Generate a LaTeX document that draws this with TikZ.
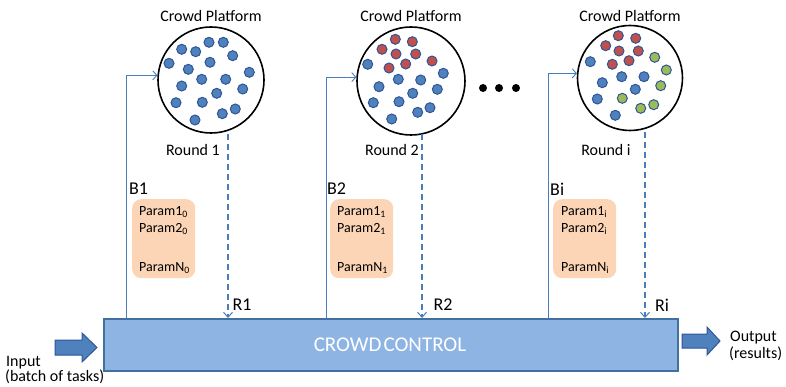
\documentclass[tikz,border=0pt]{standalone}
\usepackage{fontspec}
\setmainfont{Carlito}
\usetikzlibrary{arrows.meta}
\definecolor{dotblue}{HTML}{4F81BD}
\definecolor{dotedge}{HTML}{2F5597}
\definecolor{dotred}{HTML}{C0504D}
\definecolor{dotgreen}{HTML}{9BBB59}
\definecolor{ctrlfill}{HTML}{8EB4E3}
\definecolor{ctrledge}{HTML}{41719C}
\definecolor{peach}{HTML}{FBD5B5}
\definecolor{linkblue}{HTML}{4A7EBB}
\newcommand{\sbs}[1]{\textsubscript{#1}}
\tikzset{
  platform/.style={circle, draw=black, line width=1.6pt, minimum size=#1, inner sep=0pt},
  bdot/.style={circle, fill=dotblue, draw=dotedge, line width=1pt, minimum size=10pt, inner sep=0pt},
  rdot/.style={circle, fill=dotred, draw=dotedge, line width=1pt, minimum size=10pt, inner sep=0pt},
  gdot/.style={circle, fill=dotgreen, draw=dotedge, line width=1pt, minimum size=10pt, inner sep=0pt},
  title/.style={font=\fontsize{16}{18}\selectfont},
  lab/.style={font=\fontsize{18}{20}\selectfont},
  parambox/.style={fill=peach, rounded corners=9pt, minimum width=63pt, minimum height=79pt, anchor=north west, inner sep=0pt},
  ptext/.style={font=\fontsize{14}{16}\selectfont, anchor=west, inner sep=0pt},
  feed/.style={draw=linkblue, line width=0.9pt, -{Straight Barb[length=4pt,width=9pt,line width=0.9pt]}},
  res/.style={draw=linkblue, line width=1.3pt, dash pattern=on 6pt off 4pt, -{Straight Barb[length=5pt,width=9pt,line width=1pt]}},
  bigarrow/.style={fill=dotblue, draw=dotedge, line width=1pt, line join=miter},
}
\begin{document}
\begin{tikzpicture}[x=1pt,y=-1pt]
\useasboundingbox (0,0) rectangle (786,387);
% control box
\node[draw=ctrledge, fill=ctrlfill, line width=1.5pt, minimum width=574pt, minimum height=52pt, inner sep=0pt, anchor=north west] (ctrl) at (103,318) {};
\node[text=white, font=\fontsize{21}{23}\selectfont] (ctrltext) at (390,345) {CROWD\hspace{0.1em}CONTROL};
% platforms
\node[platform=106pt] (c1) at (211,80) {};
\node[platform=108pt] (c2) at (411,81) {};
\node[platform=105pt] (c3) at (630,78) {};
\node[title] (t1) at (211,16) {Crowd Platform};
\node[title] (t2) at (411,16) {Crowd Platform};
\node[title] (t3) at (630,16) {Crowd Platform};
\node[title] (rd1) at (193,150) {Round 1};
\node[title] (rd2) at (392,150) {Round 2};
\node[title] (rd3) at (606,150) {Round i};
% dots circle 1
\foreach \x/\y [count=\k] in {181.7/49.3,195.7/51.7,209/42.3,223.3/42.3,232.7/55.7,169/63.3,210/62.3,188.3/69.3,249.3/72.3,201.7/79.3,225.7/79.3,181.7/86,242.7/89,216.7/93.3,176/102.7,202.3/102.3,235.3/109,222.3/113.7,195/120}
  \node[bdot] (da\k) at (\x,\y) {};
% dots circle 2
\foreach \x/\y [count=\k] in {395.3/39.3,412.3/41.7,382/49.3,396/54,415.7/54,432/61,405.7/64,389/68}
  \node[rdot] (dbr\k) at (\x,\y) {};
\foreach \x/\y [count=\k] in {367.7/64.3,443.3/73.3,398.3/79.3,420.7/80,379/86.7,437.3/89.3,412.7/93.3,373.3/102.7,399/101.7,430/107.7,417.7/112.3,391.7/119}
  \node[bdot] (dbb\k) at (\x,\y) {};
% dots circle 3
\foreach \x/\y [count=\k] in {618.3/35.7,635.7/38.3,605.7/45.7,619/51,638.3/51,612.3/64.3,629/60.7}
  \node[rdot] (dcr\k) at (\x,\y) {};
\foreach \x/\y [count=\k] in {654.7/57.3,666.3/70,660.7/85.7,622.3/98.3,653.7/104.7,640.7/108.3}
  \node[gdot] (dcg\k) at (\x,\y) {};
\foreach \x/\y [count=\k] in {590.3/61.7,621.7/76.7,644/76.7,602.3/82.7,635.3/89.3,597.3/99,615.3/115.3}
  \node[bdot] (dcb\k) at (\x,\y) {};
% ellipsis dots
\foreach \x [count=\k] in {483,499,516}
  \node[circle, fill=black, minimum size=8pt, inner sep=0pt] (ell\k) at (\x,88) {};
% feed lines
\coordinate (f1) at (126,318);
\coordinate (f2) at (326,318);
\coordinate (f3) at (548,318);
\draw[feed] (f1) |- (c1.175);
\draw[feed] (f2) |- (c2.176);
\draw[feed] (f3) |- (c3.175);
% result lines
\coordinate (s1) at (228,134);
\coordinate (s2) at (422,134);
\coordinate (s3) at (645,132);
\draw[res] (s1) -- (s1 |- ctrl.north);
\draw[res] (s2) -- (s2 |- ctrl.north);
\draw[res] (s3) -- (s3 |- ctrl.north);
\node[lab] (r1) at (242,305) {R1};
\node[lab] (r2) at (443,305) {R2};
\node[lab] (r3) at (662,305) {Ri};
% B labels
\node[lab, anchor=west, inner sep=0pt] (b1) at (129,189) {B1};
\node[lab, anchor=west, inner sep=0pt] (b2) at (327,189) {B2};
\node[lab, anchor=west, inner sep=0pt] (b3) at (550,189) {Bi};
% parameter boxes
\node[parambox] (p1) at (132,199) {};
\node[parambox] (p2) at (330,199) {};
\node[parambox] (p3) at (553,199) {};
\node[ptext] (p1a) at (139,212) {Param1\sbs{0}};
\node[ptext] (p1b) at (139,229) {Param2\sbs{0}};
\node[ptext] (p1c) at (139,268) {ParamN\sbs{0}};
\node[ptext] (p2a) at (337,212) {Param1\sbs{1}};
\node[ptext] (p2b) at (337,229) {Param2\sbs{1}};
\node[ptext] (p2c) at (337,268) {ParamN\sbs{1}};
\node[ptext] (p3a) at (561,212) {Param1\sbs{i}};
\node[ptext] (p3b) at (561,229) {Param2\sbs{i}};
\node[ptext] (p3c) at (561,268) {ParamN\sbs{i}};
% input / output block arrows
\draw[bigarrow] (55,340) -- (82,340) -- (82,333) -- (97,347.5) -- (82,362) -- (82,355) -- (55,355) -- cycle;
\draw[bigarrow] (682,334) -- (707,334) -- (707,327) -- (720,341) -- (707,355) -- (707,348) -- (682,348) -- cycle;
\node[title, anchor=west, inner sep=0pt] (in1) at (6,363) {Input};
\node[title, anchor=west, inner sep=0pt] (in2) at (5,377) {(batch of tasks)};
\node[title, anchor=west, inner sep=0pt] (out1) at (730,338) {Output};
\node[title, anchor=west, inner sep=0pt] (out2) at (729,354) {(results)};
\end{tikzpicture}
\end{document}
